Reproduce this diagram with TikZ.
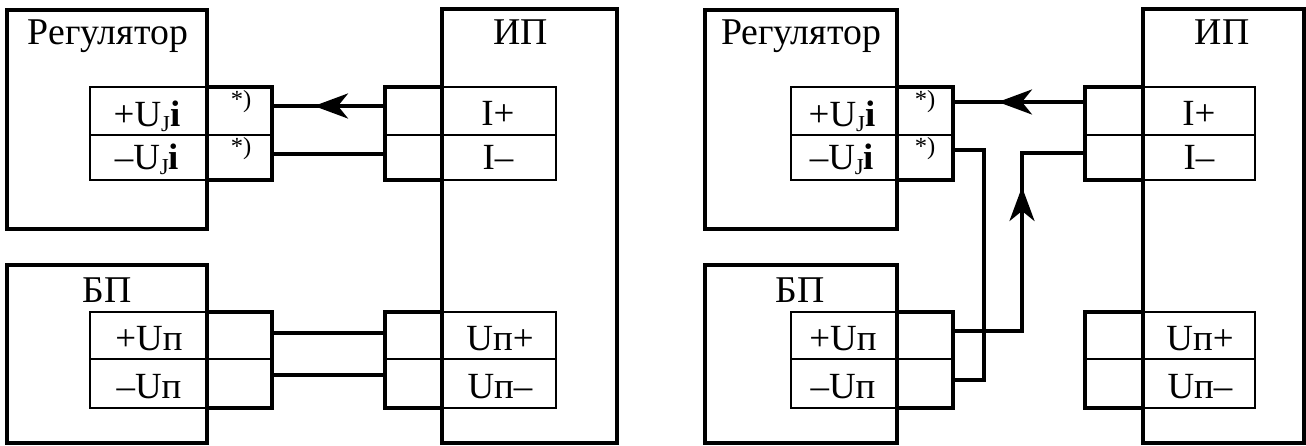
\documentclass[tikz,border=0pt]{standalone}
\usepackage{fontspec}
\setmainfont{Liberation Serif}
\usetikzlibrary{arrows.meta}
\usetikzlibrary{calc}
\tikzset{>=latex}
\tikzstyle{blockbox}=[draw=black,line width=2.5pt,inner sep=0pt,outer sep=0pt]
\tikzstyle{cellbox}=[draw=black,line width=1.2pt,inner sep=0pt,outer sep=0pt]
\tikzstyle{heavy}=[line width=2.5pt]
\tikzstyle{wire}=[line width=2.2pt]
\tikzstyle{bigtext}=[anchor=base,inner sep=0pt,font=\fontsize{21.5}{24}\selectfont]
\tikzstyle{celltext}=[anchor=base,inner sep=0pt,font=\fontsize{21}{24}\selectfont]
\tikzstyle{startext}=[inner sep=0pt,font=\fontsize{14}{16}\selectfont]
\tikzset{headtip/.style={-{Stealth[length=0.68cm,width=0.5cm,inset=0.2cm]}}}
\newcommand{\Uj}{U\raisebox{-0.25ex}{\fontsize{13}{14}\selectfont J}\textbf{i}}

\begin{document}
\begin{tikzpicture}[x=0.02cm,y=-0.02cm]
  \useasboundingbox (0,0) rectangle (1306,446);
  % left scheme
  \node[blockbox,minimum width=4cm,minimum height=4.38cm] (regL) at (107,119.5) {};
  \node[blockbox,minimum width=4cm,minimum height=3.56cm] (bpL) at (107,354) {};
  \node[blockbox,minimum width=3.5cm,minimum height=8.68cm] (ipL) at (529.5,226) {};
  \node[cellbox,minimum width=2.34cm,minimum height=0.96cm] (cellLa) at (148.5,111) {};
  \node[cellbox,minimum width=2.34cm,minimum height=0.9cm] (cellLb) at (148.5,157.5) {};
  \node[cellbox,minimum width=1.3cm,minimum height=0.96cm] (pinLa) at (239.5,111) {};
  \node[cellbox,minimum width=1.3cm,minimum height=0.9cm] (pinLb) at (239.5,157.5) {};
  \node[cellbox,minimum width=2.28cm,minimum height=0.96cm] (cellRa) at (499,111) {};
  \node[cellbox,minimum width=2.28cm,minimum height=0.9cm] (cellRb) at (499,157.5) {};
  \node[cellbox,minimum width=1.14cm,minimum height=0.96cm] (pinRa) at (413.5,111) {};
  \node[cellbox,minimum width=1.14cm,minimum height=0.9cm] (pinRb) at (413.5,157.5) {};
  \node[cellbox,minimum width=2.34cm,minimum height=0.94cm] (cellLc) at (148.5,335.5) {};
  \node[cellbox,minimum width=2.34cm,minimum height=0.98cm] (cellLd) at (148.5,383.5) {};
  \node[cellbox,minimum width=1.3cm,minimum height=0.94cm] (pinLc) at (239.5,335.5) {};
  \node[cellbox,minimum width=1.3cm,minimum height=0.98cm] (pinLd) at (239.5,383.5) {};
  \node[cellbox,minimum width=2.28cm,minimum height=0.94cm] (cellRc) at (499,335.5) {};
  \node[cellbox,minimum width=2.28cm,minimum height=0.98cm] (cellRd) at (499,383.5) {};
  \node[cellbox,minimum width=1.14cm,minimum height=0.94cm] (pinRc) at (413.5,335.5) {};
  \node[cellbox,minimum width=1.14cm,minimum height=0.98cm] (pinRd) at (413.5,383.5) {};
  \draw[heavy] (pinLa.north west) -- (pinLa.north east) -- (pinLb.south east) -- (pinLb.south west);
  \draw[heavy] (pinRa.north east) -- (pinRa.north west) -- (pinRb.south west) -- (pinRb.south east);
  \draw[heavy] (pinLc.north west) -- (pinLc.north east) -- (pinLd.south east) -- (pinLd.south west);
  \draw[heavy] (pinRc.north east) -- (pinRc.north west) -- (pinRd.south west) -- (pinRd.south east);
  \coordinate (tipL) at (314,106);
  \draw[wire,headtip] (pinRa.west |- tipL) -- (tipL);
  \draw[wire] ($(tipL)+(10,0)$) -- (pinLa.east |- tipL);
  \draw[wire] ($(pinLb.east)+(0,-3.5)$) -- ($(pinRb.west)+(0,-3.5)$);
  \draw[wire] ($(pinLc.east)+(0,-2.5)$) -- ($(pinRc.west)+(0,-2.5)$);
  \draw[wire] ($(pinLd.east)+(0,-8.5)$) -- ($(pinRd.west)+(0,-8.5)$);
  \node[bigtext] (regLtext) at (108,45) {Регулятор};
  \node[bigtext] (bpLtext) at (107,302) {БП};
  \node[bigtext] (ipLtext) at (521,45) {ИП};
  \node[celltext] (uLa) at (147,127) {+\Uj};
  \node[celltext] (uLb) at (147,170) {–\Uj};
  \node[celltext] (iLa) at (498,126) {I+};
  \node[celltext] (iLb) at (498,170) {I–};
  \node[celltext] (uLc) at (149,350) {+Uп};
  \node[celltext] (uLd) at (149,398) {–Uп};
  \node[celltext] (uRc) at (500,350) {Uп+};
  \node[celltext] (uRd) at (500,398) {Uп–};
  \node[startext] (starLa) at (241,102) {*)};
  \node[startext] (starLb) at (241,149) {*)};
  % right scheme
  \node[blockbox,minimum width=3.84cm,minimum height=4.38cm] (regP) at (801,119.5) {};
  \node[blockbox,minimum width=3.84cm,minimum height=3.56cm] (bpP) at (801,354) {};
  \node[blockbox,minimum width=3.22cm,minimum height=8.68cm] (ipP) at (1223.5,226) {};
  \node[cellbox,minimum width=2.1cm,minimum height=0.96cm] (cellPa) at (843.5,111) {};
  \node[cellbox,minimum width=2.1cm,minimum height=0.9cm] (cellPb) at (843.5,157.5) {};
  \node[cellbox,minimum width=1.14cm,minimum height=0.96cm] (pinPa) at (924.5,111) {};
  \node[cellbox,minimum width=1.14cm,minimum height=0.9cm] (pinPb) at (924.5,157.5) {};
  \node[cellbox,minimum width=2.24cm,minimum height=0.96cm] (cellQa) at (1199,111) {};
  \node[cellbox,minimum width=2.24cm,minimum height=0.9cm] (cellQb) at (1199,157.5) {};
  \node[cellbox,minimum width=1.16cm,minimum height=0.96cm] (pinQa) at (1114,111) {};
  \node[cellbox,minimum width=1.16cm,minimum height=0.9cm] (pinQb) at (1114,157.5) {};
  \node[cellbox,minimum width=2.1cm,minimum height=0.94cm] (cellPc) at (843.5,335.5) {};
  \node[cellbox,minimum width=2.1cm,minimum height=0.98cm] (cellPd) at (843.5,383.5) {};
  \node[cellbox,minimum width=1.14cm,minimum height=0.94cm] (pinPc) at (924.5,335.5) {};
  \node[cellbox,minimum width=1.14cm,minimum height=0.98cm] (pinPd) at (924.5,383.5) {};
  \node[cellbox,minimum width=2.24cm,minimum height=0.94cm] (cellQc) at (1199,335.5) {};
  \node[cellbox,minimum width=2.24cm,minimum height=0.98cm] (cellQd) at (1199,383.5) {};
  \node[cellbox,minimum width=1.16cm,minimum height=0.94cm] (pinQc) at (1114,335.5) {};
  \node[cellbox,minimum width=1.16cm,minimum height=0.98cm] (pinQd) at (1114,383.5) {};
  \draw[heavy] (pinPa.north west) -- (pinPa.north east) -- (pinPb.south east) -- (pinPb.south west);
  \draw[heavy] (pinQa.north east) -- (pinQa.north west) -- (pinQb.south west) -- (pinQb.south east);
  \draw[heavy] (pinPc.north west) -- (pinPc.north east) -- (pinPd.south east) -- (pinPd.south west);
  \draw[heavy] (pinQc.north east) -- (pinQc.north west) -- (pinQd.south west) -- (pinQd.south east);
  \coordinate (tipP) at (998,102);
  \coordinate (tipQ) at (1022,187);
  \draw[wire,headtip] (pinQa.west |- tipP) -- (tipP);
  \draw[wire] ($(tipP)+(10,0)$) -- (pinPa.east |- tipP);
  \draw[wire] ($(pinPb.east)+(0,-7.5)$) -- ++(31,0) -- ++(0,230) -- ($(pinPd.east)+(0,-3.5)$);
  \draw[wire,headtip] ($(pinPc.east)+(0,-4.5)$) -| (tipQ);
  \draw[wire] ($(tipQ)+(0,10)$) |- ($(pinQb.west)+(0,-4.5)$);
  \node[bigtext] (regPtext) at (801,45) {Регулятор};
  \node[bigtext] (bpPtext) at (800,302) {БП};
  \node[bigtext] (ipPtext) at (1222,45) {ИП};
  \node[celltext] (uPa) at (842,127) {+\Uj};
  \node[celltext] (uPb) at (842,170) {–\Uj};
  \node[celltext] (iPa) at (1199,126) {I+};
  \node[celltext] (iPb) at (1199,170) {I–};
  \node[celltext] (uPc) at (843,350) {+Uп};
  \node[celltext] (uPd) at (843,398) {–Uп};
  \node[celltext] (uQc) at (1200,350) {Uп+};
  \node[celltext] (uQd) at (1200,398) {Uп–};
  \node[startext] (starPa) at (925,102) {*)};
  \node[startext] (starPb) at (925,149) {*)};
\end{tikzpicture}
\end{document}
